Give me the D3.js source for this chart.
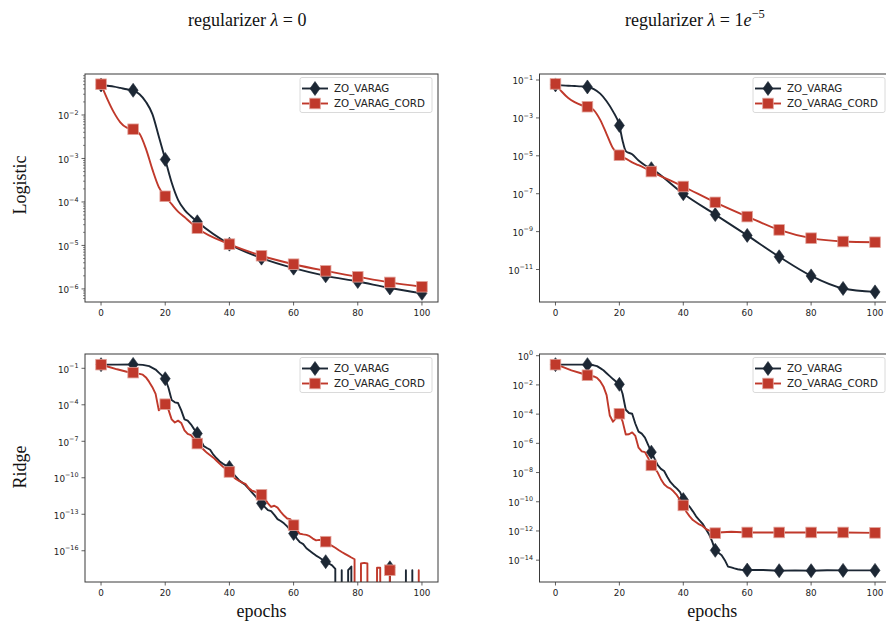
<!DOCTYPE html>
<html><head><meta charset="utf-8">
<script src="https://cdn.jsdelivr.net/npm/d3@7"></script>
<style>body{margin:0;background:#fff}svg{display:block}</style>
</head><body>
<svg id="c" width="886" height="631"></svg>
<script>
// ---------------- DATA ----------------
const seriesNames = ["ZO_VARAG", "ZO_VARAG_CORD"];
const columnTitles = ["λ = 0", "λ = 1e-5"];
const rowTitles = ["Logistic", "Ridge"];
const xTicks = [0, 20, 40, 60, 80, 100];

// Logistic, lambda = 0
const logisticL0Epochs = [0,2,4,6,8,10,12,14,16,18,20,22,24,26,28,30,40,50,60,70,80,90,100];
const logisticL0Varag = [4.9e-2,4.7e-2,4.5e-2,4.2e-2,3.9e-2,3.7e-2,3.0e-2,2.0e-2,1.05e-2,3.2e-3,9.5e-4,2.8e-4,1.12e-4,6.6e-5,4.7e-5,3.5e-5,1.07e-5,5.1e-6,3.0e-6,2.0e-6,1.48e-6,1.05e-6,7.9e-7];
const logisticL0Cord = [5.1e-2,2.3e-2,1.15e-2,6.8e-3,5.1e-3,4.7e-3,3.7e-3,1.66e-3,5.6e-4,2.2e-4,1.35e-4,8.9e-5,6.0e-5,4.5e-5,3.3e-5,2.5e-5,1.07e-5,5.8e-6,3.7e-6,2.6e-6,1.9e-6,1.41e-6,1.12e-6];
const logisticL0YTicks = [1e-2,1e-3,1e-4,1e-5,1e-6];

// Logistic, lambda = 1e-5
const logisticL1Epochs = [0,2,4,6,8,10,12,14,16,18,20,21,22,24,26,28,30,40,50,60,70,80,90,100];
const logisticL1Varag = [5.5e-2,5.2e-2,5.0e-2,4.8e-2,4.6e-2,4.3e-2,3.3e-2,1.9e-2,7.6e-3,2.2e-3,4.0e-4,6.3e-5,1.78e-5,1.2e-5,5.6e-6,3.2e-6,2.1e-6,1.0e-7,7.9e-9,6.3e-10,4.7e-11,4.6e-12,1.0e-12,6.6e-13];
const logisticL1Cord = [6.2e-2,2.4e-2,1.12e-2,6.8e-3,4.8e-3,3.9e-3,2.6e-3,7.9e-4,1.41e-4,2.5e-5,1.07e-5,8.5e-6,7.1e-6,4.5e-6,3.2e-6,2.2e-6,1.48e-6,2.4e-7,3.5e-8,6.2e-9,1.23e-9,4.5e-10,3.0e-10,2.75e-10];
const logisticL1YTicks = [1e-1,1e-3,1e-5,1e-7,1e-9,1e-11];

// Ridge, lambda = 0  (0 = loss reached exactly zero)
const ridgeL0VaragEpochs = [0,5,10,13,15,17,18,19,20,21,22,23,24,25,26,27,28,29,30,31,32,33,34,35,36,37,38,39,40,41,42,43,44,45,46,47,48,49,50,51,52,53,54,55,56,57,58,59,60,61,62,63,64,65,66,67,68,69,70,71,72,73,74,75,76,77,78,79,80,89,90,91,94,95,96,97,98,100];
const ridgeL0Varag = [2.0e-1,2.0e-1,2.1e-1,1.9e-1,1.5e-1,7.9e-2,4.4e-2,2.5e-2,1.4e-2,2.5e-3,2.5e-4,1.6e-4,1.4e-4,3.5e-5,6.3e-6,5.0e-6,2.5e-6,1.0e-6,4.3e-7,1.4e-7,4.0e-8,2.8e-8,2.0e-8,7.9e-9,4.0e-9,2.2e-9,1.4e-9,1.0e-9,7.1e-10,2.5e-10,1.26e-10,6.3e-11,4.0e-11,2.5e-11,1.26e-11,6.3e-12,3.2e-12,1.6e-12,7.9e-13,4.0e-13,2.2e-13,1.8e-13,8.9e-14,4.0e-14,2.8e-14,1.8e-14,1.0e-14,5.0e-15,2.6e-15,1.0e-15,5.0e-16,3.5e-16,1.6e-16,1.0e-16,6.3e-17,4.0e-17,2.8e-17,1.8e-17,1.26e-17,8.9e-18,6.3e-18,3.2e-18,0,2.5e-18,0,2.5e-18,5.0e-18,0,0,0,4.0e-18,0,0,2.5e-18,0,2.5e-18,0,0];
const ridgeL0CordEpochs = [0,2,5,8,10,12,13,14,15,16,17,18,19,20,21,22,23,24,25,26,27,28,29,30,31,32,33,34,35,36,37,38,39,40,41,42,43,44,45,46,47,48,49,50,51,52,53,54,55,56,57,58,59,60,61,62,63,64,65,66,67,68,69,70,71,72,73,74,75,76,77,78,79,80,81,82,83,84,85,86,87,88,89,90,91,98,99,100];
const ridgeL0Cord = [2.0e-1,1.41e-1,8.3e-2,5.2e-2,4.4e-2,3.5e-2,3.0e-2,1.78e-2,7.6e-3,2.8e-3,7.9e-4,3.5e-5,6.3e-5,1.12e-4,4.0e-5,6.3e-6,3.5e-6,5.0e-6,3.2e-6,7.9e-7,4.0e-7,3.2e-7,1.6e-7,6.5e-8,3.5e-8,2.0e-8,1.12e-8,7.1e-9,4.5e-9,2.5e-9,1.41e-9,7.9e-10,5.0e-10,3.0e-10,1.41e-10,7.9e-11,5.6e-11,4.0e-11,3.2e-11,1.41e-11,8.9e-12,7.1e-12,5.0e-12,4.0e-12,2.0e-12,7.9e-13,4.0e-13,5.0e-13,3.5e-13,1.58e-13,7.9e-14,4.5e-14,4.0e-14,1.26e-14,5.0e-15,2.5e-15,2.2e-15,2.0e-15,1.58e-15,1.0e-15,7.1e-16,7.9e-16,7.1e-16,5.6e-16,3.5e-16,2.5e-16,1.78e-16,1.17e-16,7.9e-17,5.6e-17,4.0e-17,2.8e-17,2.0e-17,0,8.9e-18,1.0e-17,8.9e-18,0,0,4.0e-18,4.0e-18,0,0,2.5e-18,0,0,2.5e-18,0];
const ridgeL0YTicks = [1e-1,1e-4,1e-7,1e-10,1e-13,1e-16];

// Ridge, lambda = 1e-5
const ridgeL1VaragEpochs = [0,10,12,13,14,15,16,17,18,19,20,21,22,23,24,25,26,27,28,29,30,31,32,33,34,35,36,37,38,39,40,41,42,43,44,45,46,47,48,49,50,51,52,53,54,55,56,57,58,60,65,70,75,80,85,90,95,100];
const ridgeL1Varag = [2.45e-1,2.45e-1,2.2e-1,1.95e-1,1.41e-1,1.0e-1,6.3e-2,4.0e-2,2.5e-2,1.66e-2,1.1e-2,2.5e-3,2.0e-4,1.2e-4,1.07e-4,2.2e-5,6.3e-6,4.6e-6,2.5e-6,7.9e-7,2.5e-7,8.9e-8,3.2e-8,1.78e-8,1.26e-8,5.0e-9,2.2e-9,1.26e-9,7.9e-10,4.5e-10,1.41e-10,7.9e-11,4.5e-11,2.2e-11,1.0e-11,5.6e-12,3.2e-12,1.41e-12,6.3e-13,2.0e-13,4.7e-14,3.2e-14,2.2e-14,1.0e-14,3.6e-15,3.2e-15,2.75e-15,2.4e-15,2.2e-15,2.1e-15,2.1e-15,1.9e-15,2.0e-15,1.9e-15,2.05e-15,2.0e-15,2.0e-15,2.0e-15];
const ridgeL1CordEpochs = [0,2,5,8,10,12,13,14,15,16,17,18,19,20,21,22,23,24,25,26,27,28,29,30,31,32,33,34,35,36,37,38,39,40,41,42,43,44,45,46,47,48,49,50,51,55,60,70,80,90,100];
const ridgeL1Cord = [2.45e-1,1.78e-1,1.0e-1,6.3e-2,4.6e-2,3.8e-2,3.0e-2,1.78e-2,7.9e-3,2.0e-3,8.0e-5,3.0e-5,5.6e-5,1.07e-4,3.2e-5,4.0e-6,4.2e-6,5.6e-6,3.2e-6,5.0e-7,2.8e-7,2.5e-7,1.0e-7,3.1e-8,2.0e-8,1.0e-8,3.5e-9,1.58e-9,1.0e-9,7.9e-10,5.0e-10,2.8e-10,1.26e-10,5.6e-11,2.0e-11,1.0e-11,5.6e-12,4.0e-12,2.8e-12,2.2e-12,1.41e-12,1.1e-12,8.9e-13,7.1e-13,7.9e-13,8.9e-13,7.9e-13,7.9e-13,7.9e-13,7.9e-13,7.4e-13];
const ridgeL1YTicks = [1e0,1e-2,1e-4,1e-6,1e-8,1e-10,1e-12,1e-14];

// ---------------- LAYOUT ----------------
const COLORS = ["#1c2734", "#c0392b"];
const panels = [
  {left:85, right:438, top:74, bottom:302, yDom:[5.0e-7, 8.77e-2], yTicks:logisticL0YTicks, minor:true, curve:d3.curveMonotoneX,
   series:[{x:logisticL0Epochs, y:logisticL0Varag},{x:logisticL0Epochs, y:logisticL0Cord}]},
  {left:539.5, right:891, top:74, bottom:302, yDom:[1.93e-13, 0.2075], yTicks:logisticL1YTicks, minor:false, curve:d3.curveMonotoneX,
   series:[{x:logisticL1Epochs, y:logisticL1Varag},{x:logisticL1Epochs, y:logisticL1Cord}]},
  {left:85, right:438, top:354, bottom:582, yDom:[2.7e-19, 1.5], yTicks:ridgeL0YTicks, minor:false, curve:d3.curveLinear, xlabel:true,
   series:[{x:ridgeL0VaragEpochs, y:ridgeL0Varag},{x:ridgeL0CordEpochs, y:ridgeL0Cord}]},
  {left:539.5, right:891, top:354, bottom:582, yDom:[3.2e-16, 1.31], yTicks:ridgeL1YTicks, minor:false, curve:d3.curveLinear, xlabel:true,
   series:[{x:ridgeL1VaragEpochs, y:ridgeL1Varag},{x:ridgeL1CordEpochs, y:ridgeL1Cord}]}
];

const svg = d3.select("#c");
const TICKFONT = "DejaVu Sans, sans-serif";
const SERIF = "Liberation Serif, Times New Roman, serif";

function diamondPath(s){ return `M0,${-7*s}L${5*s},0L0,${7*s}L${-5*s},0Z`; }
function drawMarker(g, i, x, y){
  if(i===0){
    g.append("path").attr("d", diamondPath(1)).attr("transform",`translate(${x},${y})`)
      .attr("fill", COLORS[0]).attr("stroke", COLORS[0]).attr("stroke-width",0.6);
  } else {
    g.append("rect").attr("x", x-5.3).attr("y", y-5.3).attr("width",10.6).attr("height",10.6)
      .attr("fill", COLORS[1]).attr("stroke", "#e2a39b").attr("stroke-width",0.8);
  }
}

panels.forEach((p, pi) => {
  const x = d3.scaleLinear().domain([-5, 105]).range([p.left, p.right]);
  const y = d3.scaleLog().domain(p.yDom).range([p.bottom, p.top]);
  const g = svg.append("g");
  const clipId = "clip"+pi;
  svg.append("clipPath").attr("id", clipId).append("rect")
    .attr("x", p.left).attr("y", p.top).attr("width", p.right-p.left).attr("height", p.bottom-p.top);

  const plot = g.append("g").attr("clip-path", `url(#${clipId})`);
  const yv = v => v > 0 ? y(v) : p.bottom + 40000;
  p.series.forEach((s, si) => {
    const pts = s.x.map((e, k) => [e, s.y[k]]);
    const line = d3.line().x(d => x(d[0])).y(d => yv(d[1])).curve(p.curve);
    plot.append("path").attr("d", line(pts)).attr("fill","none")
      .attr("stroke", COLORS[si]).attr("stroke-width", 1.9).attr("stroke-linejoin","round");
    pts.filter(d => d[0] % 10 === 0 && d[1] > 0).forEach(d => drawMarker(plot, si, x(d[0]), y(d[1])));
  });

  // spines
  g.append("rect").attr("x", p.left).attr("y", p.top).attr("width", p.right-p.left).attr("height", p.bottom-p.top)
    .attr("fill","none").attr("stroke","#3a3a3a").attr("stroke-width",1);

  // x axis
  const xAxis = g.append("g");
  xTicks.forEach(t => {
    xAxis.append("line").attr("x1", x(t)).attr("x2", x(t)).attr("y1", p.bottom).attr("y2", p.bottom+3.5)
      .attr("stroke","#3a3a3a").attr("stroke-width",0.8);
    xAxis.append("text").attr("x", x(t)).attr("y", p.bottom+14).attr("text-anchor","middle")
      .attr("font-family", TICKFONT).attr("font-size", 8.8).attr("fill","#222").text(t);
  });

  // y axis
  const yAxis = g.append("g");
  p.yTicks.forEach(t => {
    const yy = y(t);
    yAxis.append("line").attr("x1", p.left-3.5).attr("x2", p.left).attr("y1", yy).attr("y2", yy)
      .attr("stroke","#3a3a3a").attr("stroke-width",0.8);
    const ex = Math.round(Math.log10(t));
    const txt = yAxis.append("text").attr("x", p.left-6.5).attr("y", yy+4.3).attr("text-anchor","end")
      .attr("font-family", TICKFONT).attr("font-size", 8.8).attr("fill","#222");
    txt.append("tspan").text("10");
    txt.append("tspan").attr("dy", -4.6).attr("font-size", 6.4).text(ex < 0 ? "\u2212" + (-ex) : String(ex));
  });
  if(p.minor){
    const lo = Math.floor(Math.log10(p.yDom[0])), hi = Math.ceil(Math.log10(p.yDom[1]));
    for(let k=lo; k<hi; k++){
      for(let m=2; m<10; m++){
        const v = m*Math.pow(10,k);
        if(v>p.yDom[0] && v<p.yDom[1]){
          yAxis.append("line").attr("x1", p.left-2).attr("x2", p.left).attr("y1", y(v)).attr("y2", y(v))
            .attr("stroke","#3a3a3a").attr("stroke-width",0.6);
        }
      }
    }
  }

  // legend
  const lw = 132, lh = 35;
  const lx = p.right - 6 - lw, ly = p.top + 3.5;
  const lg = g.append("g");
  lg.append("rect").attr("x", lx).attr("y", ly).attr("width", lw).attr("height", lh).attr("rx", 2)
    .attr("fill","#fff").attr("fill-opacity",0.85).attr("stroke","#d0d0d0").attr("stroke-width",0.8);
  seriesNames.forEach((name, si) => {
    const ey = ly + 11 + si*15;
    lg.append("line").attr("x1", lx+2).attr("x2", lx+28).attr("y1", ey).attr("y2", ey)
      .attr("stroke", COLORS[si]).attr("stroke-width", 1.9);
    drawMarker(lg, si, lx+15, ey);
    lg.append("text").attr("x", lx+34).attr("y", ey+3.7).attr("font-family", TICKFONT)
      .attr("font-size", 10.3).attr("fill","#222").text(name);
  });

  if(p.xlabel){
    g.append("text").attr("x", (p.left+p.right)/2 - (pi===3?3:0)).attr("y", 617).attr("text-anchor","middle")
      .attr("font-family", SERIF).attr("font-size", 18).attr("fill","#111").text("epochs");
  }
});

// column titles
const t1 = svg.append("text").attr("x", 188).attr("y", 26).attr("font-family", SERIF).attr("font-size", 18).attr("fill","#111");
t1.append("tspan").text("regularizer ");
t1.append("tspan").attr("font-style","italic").text("λ");
t1.append("tspan").text(" = 0");
const t2 = svg.append("text").attr("x", 625).attr("y", 26).attr("font-family", SERIF).attr("font-size", 18).attr("fill","#111");
t2.append("tspan").text("regularizer ");
t2.append("tspan").attr("font-style","italic").text("λ");
t2.append("tspan").text(" = 1");
t2.append("tspan").attr("font-style","italic").text("e");
t2.append("tspan").attr("dy", -8).attr("font-size", 12.5).text("\u22125");

// row titles
[[rowTitles[0], 185], [rowTitles[1], 467]].forEach(([txt, cy]) => {
  svg.append("text").attr("transform", `translate(26,${cy}) rotate(-90)`).attr("text-anchor","middle")
    .attr("font-family", SERIF).attr("font-size", 18).attr("fill","#111").text(txt);
});
</script>
</body></html>
